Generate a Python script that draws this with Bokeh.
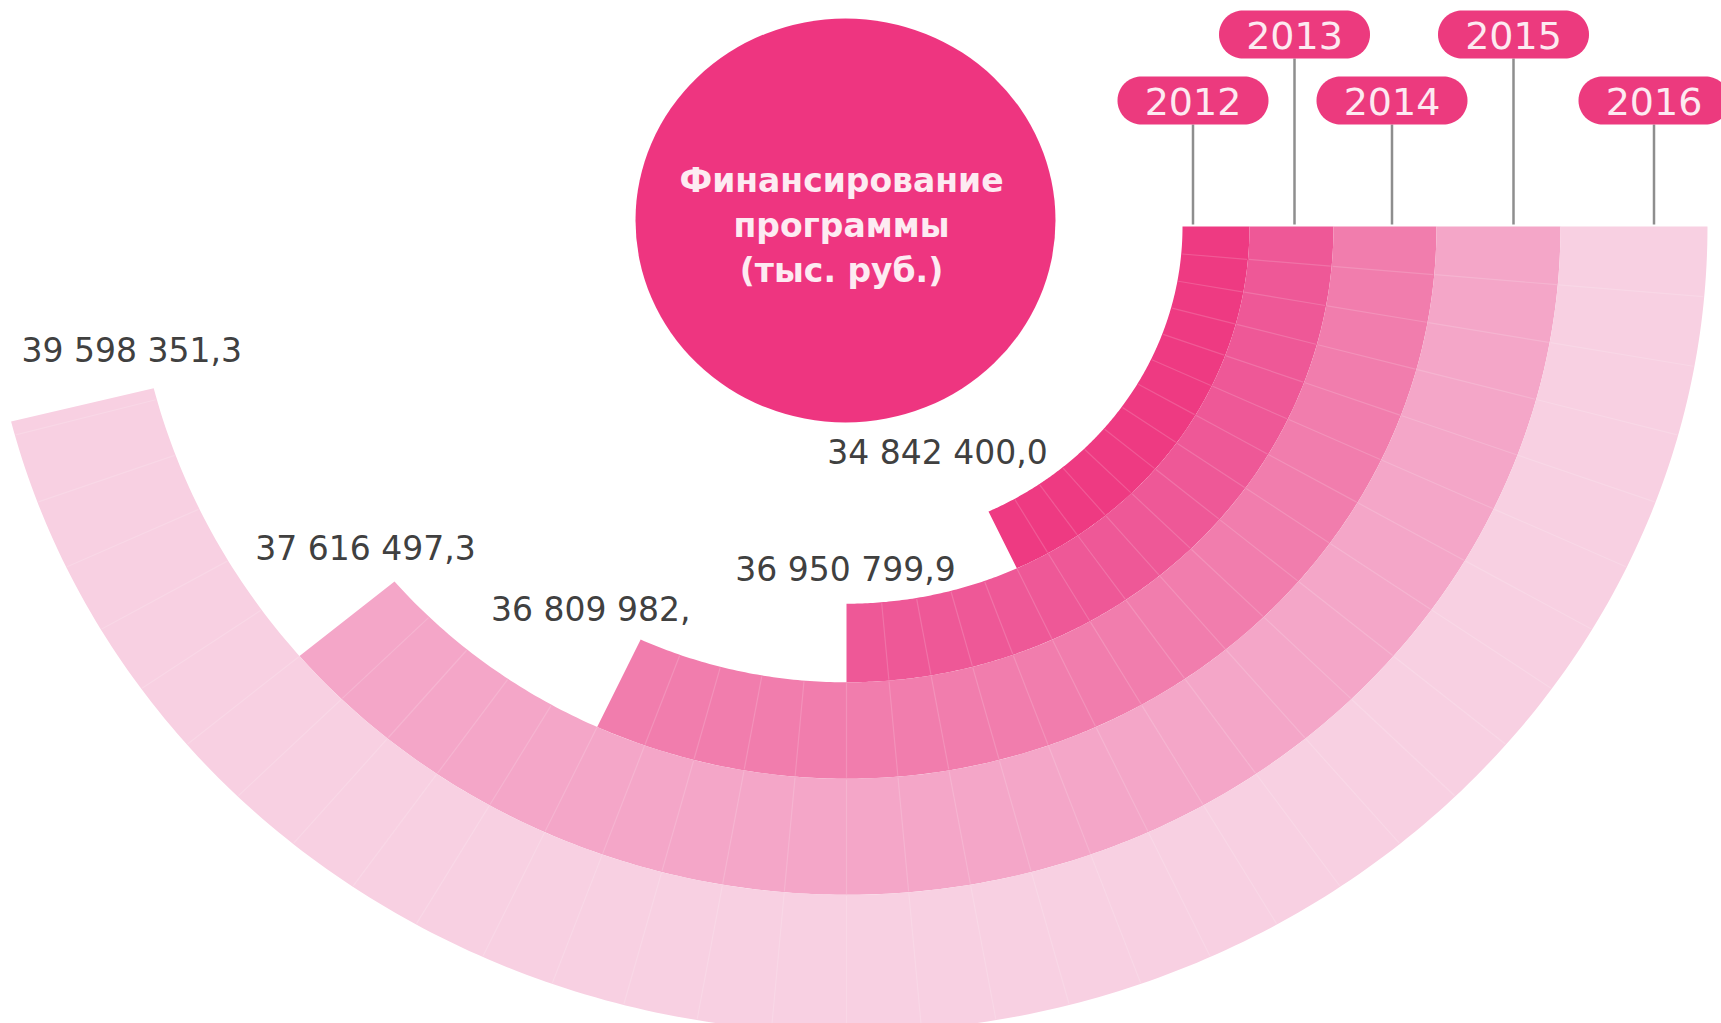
import numpy as np
from bokeh.plotting import figure
from bokeh.models import Range1d
from bokeh.core.properties import value
from bokeh.embed import file_html
from bokeh.resources import INLINE

# ---------------- data ----------------
years = ["2012", "2013", "2014", "2015", "2016"]
value_labels = ["34 842 400,0", "36 950 799,9", "36 809 982,", "37 616 497,3", "39 598 351,3"]
sweep_deg = [65, 90, 115, 140, 166]          # angular length of each ring
title_lines = ["Финансирование", "программы", "(тыс. руб.)"]

# ---------------- layout / style ----------------
W, H = 1721, 1023
CX, CY, K = 846, 226, 0.936                 # ring centre, vertical squash
ring_r = [336, 403, 487, 590, 714, 861]     # ring boundaries (px)
ring_colors = ["#EE3A82", "#EE5897", "#F17DAD", "#F4A6C8", "#F8D0E2"]
seg_step = 5
label_off = [(-51, -59), (-1, -34), (-50, -30), (-29, -33), (-22, -38)]
pill_dx = [-23, 3, 7, 15, 20]
pill_y = [100, 34, 100, 34, 100]
pill_w, pill_h = 151, 48
pink = "#EC3A7E"


def pt(r, deg):
    a = np.radians(deg)
    return CX + r * np.cos(a), CY + K * r * np.sin(a)


p = figure(width=W, height=H, output_backend="svg", toolbar_location=None,
           x_range=Range1d(0, W), y_range=Range1d(H, 0),
           x_axis_type=None, y_axis_type=None, min_border=0,
           background_fill_color="white", border_fill_color="white")
p.grid.visible = False
p.outline_line_color = None

# rings
xs, ys = [], []
for i in range(len(years)):
    r0, r1 = ring_r[i], ring_r[i + 1]
    ang = np.linspace(0, sweep_deg[i], 240)
    ox, oy = pt(r1, ang)
    ix, iy = pt(r0, ang[::-1])
    xs.append(list(np.concatenate([ox, ix])))
    ys.append(list(np.concatenate([oy, iy])))
p.patches(xs, ys, fill_color=ring_colors, line_color=None)

# segment separators
sx, sy = [], []
for i in range(len(years)):
    r0, r1 = ring_r[i], ring_r[i + 1]
    for a in np.arange(seg_step, sweep_deg[i], seg_step):
        x0, y0 = pt(r0 + 1, a)
        x1, y1 = pt(r1 - 1, a)
        sx.append([x0, x1])
        sy.append([y0, y1])
p.multi_line(sx, sy, line_color="white", line_alpha=0.16, line_width=1.2)

# central circle
p.ellipse(x=[845], y=[220], width=420, height=404, fill_color="#EE3580", line_color=None)
p.text(x=[841, 841, 841], y=[180, 225, 270], text=title_lines,
       text_font=value("DejaVu Sans"), text_font_style="bold", text_font_size="33px",
       text_color="#FDEBF2", text_align="center", text_baseline="middle")

# year pills with connector lines
lx_list = []
for i in range(len(years)):
    mid = (ring_r[i] + ring_r[i + 1]) / 2
    lx_list.append(CX + mid + pill_dx[i])
p.segment(x0=lx_list, y0=[y + pill_h / 2 for y in pill_y], x1=lx_list, y1=[CY - 2] * 5,
          line_color="#8E8E8E", line_width=2.5)
px_, py_ = [], []
for lx, ly in zip(lx_list, pill_y):
    rr = pill_h / 2
    half = pill_w / 2 - rr
    t1 = np.linspace(-90, 90, 40)
    t2 = np.linspace(90, 270, 40)
    rx = list(lx + half + rr * np.cos(np.radians(t1))) + list(lx - half + rr * np.cos(np.radians(t2)))
    ry = list(ly + rr * np.sin(np.radians(t1))) + list(ly + rr * np.sin(np.radians(t2)))
    px_.append(rx)
    py_.append(ry)
p.patches(px_, py_, fill_color=pink, line_color=None)
p.text(x=lx_list, y=[y + 1 for y in pill_y], text=years,
       text_font=value("DejaVu Sans"), text_font_size="38px",
       text_color="#FDEAF1", text_align="center", text_baseline="middle")

# value labels near the end of each ring
vx, vy = [], []
for i in range(len(years)):
    cx_, cy_ = pt(ring_r[i], sweep_deg[i])
    vx.append(cx_ + label_off[i][0])
    vy.append(cy_ + label_off[i][1])
p.text(x=vx, y=vy, text=value_labels,
       text_font=value("DejaVu Sans"), text_font_size="33px",
       text_color="#404040", text_align="center", text_baseline="middle")

open("out.html", "w").write(file_html(p, INLINE))
